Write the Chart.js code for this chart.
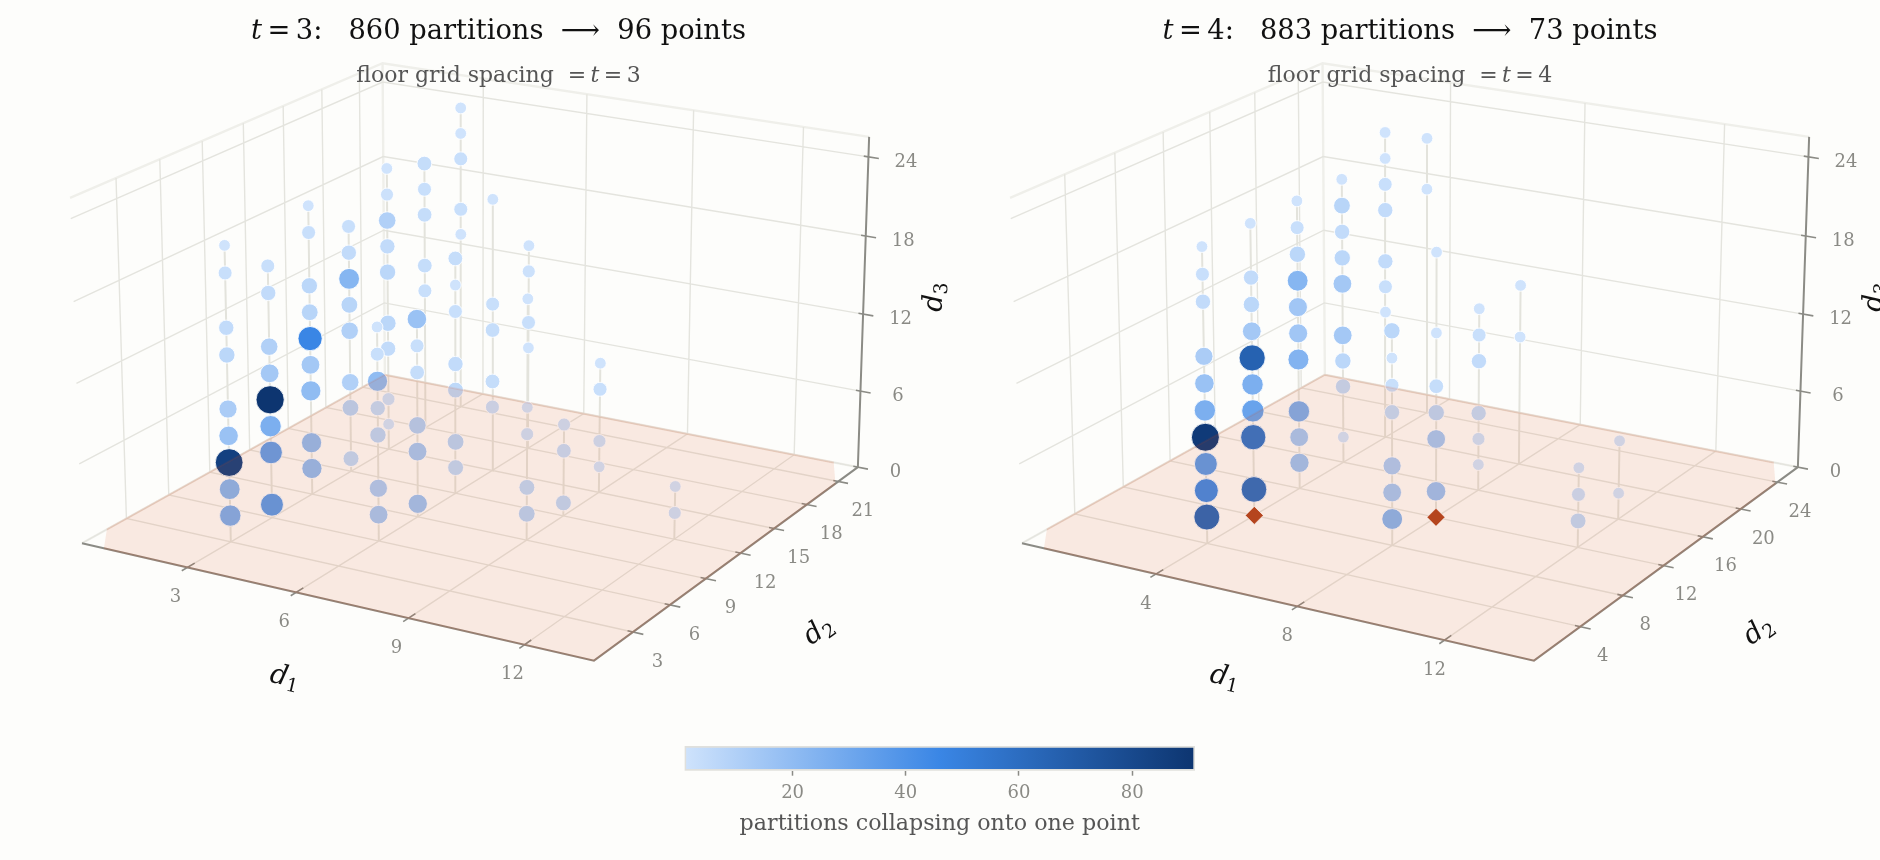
<!DOCTYPE html>
<html>
<head>
<meta charset="utf-8">
<title>Partitions collapsing onto points</title>
<script src="https://cdn.jsdelivr.net/npm/chart.js@4"></script>
<style>
html, body { margin: 0; width: 1880px; height: 860px; background: #fdfdfb; overflow: hidden; }
canvas { position: absolute; }
#panelT3 { left: 0; top: 0; }
#panelT4 { left: 940px; top: 0; }
#colorbar { left: 600px; top: 730px; }
</style>
</head>
<body>
<canvas id="panelT3" width="960" height="730"></canvas>
<canvas id="panelT4" width="940" height="730"></canvas>
<canvas id="colorbar" width="640" height="130"></canvas>
<script>
// t = 3: one entry per stem, [d1, d2], then the d3 values and counts on that stem
const t3Columns = [[3,3],[3,6],[3,9],[3,12],[3,15],[3,18],[3,21],[6,6],[6,9],[6,12],[6,15],[6,18],[9,9],[9,12],[9,15],[12,12]];
const t3Heights = [
  [2,4,6,8,10,14,16,20,22],
  [1,5,7,9,11,13,17,19],
  [2,4,8,10,12,14,16,20,22],
  [1,5,7,11,13,15,17,19],
  [2,4,8,10,14,16,18,20,22],
  [11,13,17,19,21],
  [14,16,20,22,24],
  [2,4,8,10,12,14,16],
  [1,5,7,11,13,15],
  [2,4,8,10,14,16,18],
  [5,7,11,13,21],
  [8,10,14,16],
  [2,4,8,10,18],
  [1,5,7],
  [2,4,8,10],
  [2,4]
];
const t3Counts = [
  [26,23,85,17,12,7,5,3,1],
  [36,34,26,91,14,10,5,3],
  [20,20,20,14,46,8,7,3,1],
  [6,8,10,10,8,23,5,3],
  [1,2,5,7,7,5,10,2,1],
  [3,4,4,3,4],
  [1,3,3,1,1],
  [14,12,7,5,20,3,1],
  [16,14,10,4,3,17],
  [6,8,6,5,3,1,4],
  [3,4,4,3,1],
  [1,3,2,1],
  [8,6,2,1,1],
  [6,4,2],
  [1,2,3,1],
  [2,1]
];

// t = 4
const t4Columns = [[4,4],[4,8],[4,12],[4,16],[4,20],[4,24],[8,8],[8,12],[8,16],[8,20],[12,12],[12,16]];
const t4Heights = [
  [2,4,6,8,10,12,14,18,20,22],
  [2,6,8,10,12,14,16,18,22],
  [2,4,6,10,12,14,16,18,20,22],
  [2,6,8,10,14,16,18,20,22],
  [10,12,14,18,20,22,24],
  [18,22],
  [2,4,6,10,12,14,16],
  [2,6,8,10,14,20],
  [2,4,6,10,12,14],
  [10,14],
  [2,4,6],
  [2,6]
];
const t4Counts = [
  [63,44,36,88,26,17,12,5,3,1],
  [60,56,32,26,66,14,7,5,1],
  [16,14,26,24,15,15,23,7,3,1],
  [1,5,7,14,14,7,5,8,1],
  [1,3,5,5,3,1,1],
  [1,1],
  [23,14,12,5,3,1,7],
  [17,14,7,4,1,1],
  [1,2,5,5,3,1],
  [1,1],
  [6,3,1],
  [1,1]
];
const t4DiamondD1 = [4, 8];
const t4DiamondD2 = [8, 12];
const t4DiamondD3 = [0, 0];

// axis limits and ticks
const t3D1Lim = [0, 13.75];
const t3D2Lim = [-0.05, 22.9];
const t4D1Lim = [0.05, 14.35];
const t4D2Lim = [-0.2, 26.3];
const d3Lim = [0, 25.5];
const t3D1Ticks = [3, 6, 9, 12];
const t3D2Ticks = [3, 6, 9, 12, 15, 18, 21];
const t4D1Ticks = [4, 8, 12];
const t4D2Ticks = [4, 8, 12, 16, 20, 24];
const d3Ticks = [0, 6, 12, 18, 24];
const colorbarTicks = [20, 40, 60, 80];
const countRange = [1, 91];

const cmapStops = [[207, 227, 252], [58, 134, 229], [13, 53, 112]];
const FONT = '"DejaVu Serif", serif';
const THIN = '\u2009';

// view of the unit box: [u, v, w] -> [x, y] on the canvas
const cameraAnchors = [
  [0, 0, 0, 81.7, 542.7], [1, 0, 0, 594.3, 660.7], [1, 1, 0, 857.7, 467.3], [0, 1, 0, 385, 375],
  [0, 0, 1, 70, 198.3], [1, 1, 1, 869, 136.7], [0, 1, 1, 382.7, 63]
];

function solve(A, b) {
  const n = b.length;
  const M = A.map((r, i) => r.concat(b[i]));
  for (let i = 0; i < n; i++) {
    let p = i;
    for (let k = i + 1; k < n; k++) if (Math.abs(M[k][i]) > Math.abs(M[p][i])) p = k;
    [M[i], M[p]] = [M[p], M[i]];
    for (let k = i + 1; k < n; k++) {
      const f = M[k][i] / M[i][i];
      for (let j = i; j <= n; j++) M[k][j] -= f * M[i][j];
    }
  }
  const x = new Array(n).fill(0);
  for (let i = n - 1; i >= 0; i--) {
    let s = M[i][n];
    for (let j = i + 1; j < n; j++) s -= M[i][j] * x[j];
    x[i] = s / M[i][i];
  }
  return x;
}

function fitCamera() {
  const rows = [], rhs = [];
  cameraAnchors.forEach(([u, v, w, x, y]) => {
    rows.push([u, v, w, 1, 0, 0, 0, 0, -x * u, -x * v, -x * w]); rhs.push(x);
    rows.push([0, 0, 0, 0, u, v, w, 1, -y * u, -y * v, -y * w]); rhs.push(y);
  });
  const AtA = rows[0].map((_, i) => rows[0].map((_, j) => rows.reduce((s, r) => s + r[i] * r[j], 0)));
  const Atb = rows[0].map((_, i) => rows.reduce((s, r, k) => s + r[i] * rhs[k], 0));
  return solve(AtA, Atb);
}
const cam = fitCamera();

function project(u, v, w) {
  const d = cam[8] * u + cam[9] * v + cam[10] * w + 1;
  return {
    x: (cam[0] * u + cam[1] * v + cam[2] * w + cam[3]) / d,
    y: (cam[4] * u + cam[5] * v + cam[6] * w + cam[7]) / d,
    depth: d
  };
}

function cmap(count) {
  const f = (count - countRange[0]) / (countRange[1] - countRange[0]) * 2;
  const i = Math.min(1, Math.floor(f));
  const c = cmapStops[i].map((a, k) => Math.round(a + (cmapStops[i + 1][k] - a) * (f - i)));
  return `rgb(${c[0]},${c[1]},${c[2]})`;
}
const radiusOf = count => Math.sqrt(11.5 + 18.5 * Math.sqrt(count)) + 0.4;

// pieces of line with gaps between them
function polyline(parts) {
  const out = [];
  parts.forEach(part => {
    part.forEach(p => out.push(project(p[0], p[1], p[2])));
    out.push({ x: NaN, y: NaN });
  });
  return out;
}

function lineSet(data, color, width, order, extra) {
  return Object.assign({
    type: 'line', data, borderColor: color, borderWidth: width, order,
    pointRadius: 0, fill: false, tension: 0, spanGaps: false, borderCapStyle: 'butt'
  }, extra || {});
}

function drawRich(ctx, segs, cx, y, size, color) {
  ctx.fillStyle = color;
  ctx.textBaseline = 'alphabetic';
  ctx.textAlign = 'left';
  const fontOf = s => `${s[1] ? 'italic ' : ''}${size}px ${FONT}`;
  let total = 0;
  segs.forEach(s => { ctx.font = fontOf(s); total += ctx.measureText(s[0]).width; });
  let x = cx - total / 2;
  segs.forEach(s => {
    ctx.font = fontOf(s);
    ctx.fillText(s[0], x, y);
    x += ctx.measureText(s[0]).width;
  });
}

function drawAxisName(ctx, sub, cx, cy, angle) {
  ctx.save();
  ctx.translate(cx, cy);
  ctx.rotate(angle);
  ctx.fillStyle = '#111';
  ctx.textBaseline = 'alphabetic';
  ctx.textAlign = 'left';
  ctx.font = `italic 27.5px ${FONT}`;
  const w = ctx.measureText('d').width;
  ctx.fillText('d', -w / 2 - 5, 8);
  ctx.font = `19px ${FONT}`;
  ctx.fillText(sub, w / 2 - 5, 13);
  ctx.restore();
}

function makePanel(cfg) {
  const canvas = document.getElementById(cfg.id);
  const U = d => (d - cfg.d1Lim[0]) / (cfg.d1Lim[1] - cfg.d1Lim[0]);
  const V = d => (d - cfg.d2Lim[0]) / (cfg.d2Lim[1] - cfg.d2Lim[0]);
  const W = d => (d - d3Lim[0]) / (d3Lim[1] - d3Lim[0]);

  const grid = [];
  cfg.d1Ticks.forEach(t => grid.push([[U(t), 0, 0], [U(t), 1, 0], [U(t), 1, 1]]));
  cfg.d2Ticks.forEach(t => grid.push([[1, V(t), 0], [0, V(t), 0], [0, V(t), 1]]));
  d3Ticks.forEach(t => grid.push([[0, 0, W(t)], [0, 1, W(t)], [1, 1, W(t)]]));

  const walls = [[[0, 0, 1], [0, 1, 1], [1, 1, 1]], [[0, 1, 0], [0, 1, 1]], [[0, 0, 0], [0, 1, 0], [1, 1, 0]]];
  const axes = [[[0, 0, 0], [1, 0, 0], [1, 1, 0], [1, 1, 1]]];
  const ticks = [];
  cfg.d1Ticks.forEach(t => ticks.push([[U(t), -0.017, 0], [U(t), 0.022, 0]]));
  cfg.d2Ticks.forEach(t => ticks.push([[0.99, V(t), 0], [1.019, V(t), 0]]));
  d3Ticks.forEach(t => ticks.push([[0.991, 1, W(t)], [1.02, 1, W(t)]]));

  const stems = [], pts = [];
  cfg.columns.forEach((col, i) => {
    const u = U(col[0]), v = V(col[1]);
    const heights = cfg.heights[i];
    stems.push([[u, v, 0], [u, v, W(Math.max(...heights))]]);
    heights.forEach((h, k) => {
      const p = project(u, v, W(h));
      pts.push({ x: p.x, y: p.y, depth: p.depth, count: cfg.counts[i][k] });
    });
  });
  pts.sort((a, b) => b.depth - a.depth);

  const floorFill = [[0.046, 0], [1, 0], [1, 0.905], [0.952, 1], [0, 1], [0, 0.074], [0.046, 0]]
    .map(p => project(p[0], p[1], 0));
  const floorEdge = polyline([[[0.046, 0, 0], [1, 0, 0], [1, 0.905, 0]], [[0, 0.074, 0], [0, 1, 0], [0.952, 1, 0]]]);

  const datasets = [
    lineSet(polyline(walls), '#efefea', 2.4, 7),
    lineSet(polyline(grid), '#e4e4de', 1.4, 6),
    lineSet(polyline(axes), '#8b8b85', 2, 5),
    lineSet(polyline(ticks), '#8b8b85', 1.6, 5),
    lineSet(polyline(stems), '#e3e3dc', 2, 4),
    {
      type: 'scatter', data: pts, order: 3,
      pointRadius: pts.map(p => radiusOf(p.count)),
      pointBackgroundColor: pts.map(p => cmap(p.count)),
      pointBorderColor: 'rgba(255,255,255,0.85)', pointBorderWidth: 1
    },
    lineSet(floorFill, 'rgba(0,0,0,0)', 0, 2, { fill: 'shape', backgroundColor: 'rgba(216,70,20,0.11)' }),
    lineSet(floorEdge, 'rgba(216,70,20,0.11)', 2, 1)
  ];
  if (cfg.diamonds) {
    datasets.push({
      type: 'scatter', order: 0,
      data: cfg.diamonds.d1.map((d, i) => project(U(d), V(cfg.diamonds.d2[i]), W(cfg.diamonds.d3[i]))),
      pointStyle: 'rectRot', pointRadius: 9, pointBackgroundColor: '#b5451e',
      pointBorderColor: 'rgba(255,255,255,0.7)', pointBorderWidth: 0.8
    });
  }

  const textPlugin = {
    id: 'panelText',
    afterDatasetsDraw(chart) {
      const { ctx, scales: { x: sx, y: sy } } = chart;
      const at = p => [sx.getPixelForValue(p.x), sy.getPixelForValue(p.y)];
      ctx.save();
      ctx.font = `18px ${FONT}`;
      ctx.fillStyle = '#8a8a85';
      ctx.textAlign = 'center';
      ctx.textBaseline = 'middle';
      const tickText = (t, p, dx, dy) => {
        const [px, py] = at(p);
        ctx.fillText(String(t), px + dx, py + dy);
      };
      cfg.d1Ticks.forEach(t => tickText(t, project(U(t), 0, 0), cfg.d1LabelDx, 30));
      cfg.d2Ticks.forEach(t => tickText(t, project(1, V(t), 0), cfg.d2LabelDx, 30));
      d3Ticks.forEach(t => tickText(t, project(1, 1, W(t)), 37.5, 5.5));
      drawRich(ctx, cfg.title, cfg.titleX, 39, 27.3, '#111');
      drawRich(ctx, cfg.subtitle, cfg.titleX, 81.7, 22, '#555');
      drawAxisName(ctx, '1', 284, 676.7, 13 * Math.PI / 180);
      drawAxisName(ctx, '2', 817.5, 631, -36 * Math.PI / 180);
      drawAxisName(ctx, '3', 934, 298, -88 * Math.PI / 180);
      ctx.restore();
    }
  };

  return new Chart(canvas, {
    type: 'scatter',
    data: { datasets },
    plugins: [textPlugin],
    options: {
      responsive: false,
      animation: false,
      layout: { padding: 0, autoPadding: false },
      plugins: { legend: { display: false }, tooltip: { enabled: false } },
      scales: {
        x: { type: 'linear', display: false, min: 0, max: canvas.width },
        y: { type: 'linear', display: false, min: 0, max: canvas.height, reverse: true }
      }
    }
  });
}

const titleOf = (t, parts, points) => [
  ['t', true], [`${THIN}=${THIN}${t}:`, false], [`   ${parts} partitions  `, false], ['\u27F6', false], [`  ${points} points`, false]
];
const subtitleOf = t => [['floor grid spacing  =' + THIN, false], ['t', true], [`${THIN}=${THIN}${t}`, false]];

makePanel({
  id: 'panelT3', columns: t3Columns, heights: t3Heights, counts: t3Counts,
  d1Lim: t3D1Lim, d2Lim: t3D2Lim, d1Ticks: t3D1Ticks, d2Ticks: t3D2Ticks,
  d1LabelDx: -12, d2LabelDx: 24.5,
  title: titleOf(3, 860, 96), subtitle: subtitleOf(3), titleX: 498.5
});
makePanel({
  id: 'panelT4', columns: t4Columns, heights: t4Heights, counts: t4Counts,
  d1Lim: t4D1Lim, d2Lim: t4D2Lim, d1Ticks: t4D1Ticks, d2Ticks: t4D2Ticks,
  d1LabelDx: -10, d2LabelDx: 22.5,
  diamonds: { d1: t4DiamondD1, d2: t4DiamondD2, d3: t4DiamondD3 },
  title: titleOf(4, 883, 73), subtitle: subtitleOf(4), titleX: 470
});

// colour bar: one floating bar on a real count axis
new Chart(document.getElementById('colorbar'), {
  type: 'bar',
  data: {
    labels: ['count'],
    datasets: [{
      data: [[0.9, 91.1]],
      barPercentage: 1, categoryPercentage: 1,
      borderColor: '#e0e0dc', borderWidth: 2, borderSkipped: false,
      backgroundColor(ctx) {
        const area = ctx.chart.chartArea;
        if (!area) return 'transparent';
        const g = ctx.chart.ctx.createLinearGradient(area.left, 0, area.right, 0);
        g.addColorStop(0, cmap(1));
        g.addColorStop(0.5, cmap(46));
        g.addColorStop(1, cmap(91));
        return g;
      }
    }]
  },
  options: {
    indexAxis: 'y',
    responsive: false,
    animation: false,
    layout: { autoPadding: false, padding: { left: 84.5, right: 45, top: 16, bottom: 22.8 } },
    plugins: { legend: { display: false }, tooltip: { enabled: false } },
    scales: {
      y: { display: false },
      x: {
        type: 'linear', min: 0.9, max: 91.1, position: 'bottom',
        afterBuildTicks(axis) { axis.ticks = colorbarTicks.map(v => ({ value: v })); },
        afterFit(axis) { axis.height = 66.5; },
        border: { display: false },
        grid: { drawOnChartArea: false, drawTicks: true, tickLength: 5, tickColor: '#8b8b85', tickWidth: 1.5 },
        ticks: { color: '#8a8a85', font: { family: FONT, size: 18 }, padding: 7, maxRotation: 0 },
        title: { display: true, text: 'partitions collapsing onto one point', color: '#555', font: { family: FONT, size: 22.2 }, padding: { top: 0, bottom: 0 } }
      }
    }
  }
});
</script>
</body>
</html>
